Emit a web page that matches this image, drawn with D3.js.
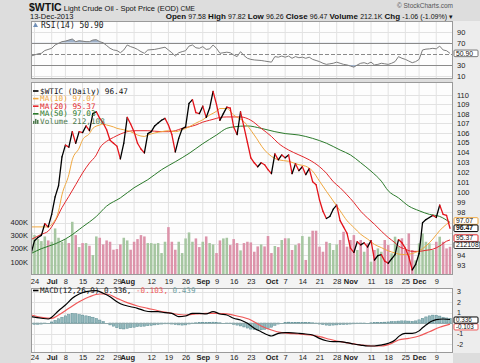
<!DOCTYPE html>
<html>
<head>
<meta charset="utf-8">
<script src="https://cdn.jsdelivr.net/npm/d3@7"></script>
<style>
  body { margin: 0; background: #dedede; }
  svg { display: block; }
</style>
</head>
<body>
<div id="grafico"></div>
<script>
/* $WTIC - petróleo bruto, grafico diario com RSI, volume, medias moveis e MACD */
// 1) Dados ------------------------------------------------
const dias = ["06-21","06-24","06-25","06-26","06-27","06-28",
  "07-01","07-02","07-03","07-05","07-08","07-09","07-10","07-11","07-12","07-15","07-16","07-17","07-18","07-19","07-22","07-23","07-24","07-25","07-26","07-29","07-30","07-31",
  "08-01","08-02","08-05","08-06","08-07","08-08","08-09","08-12","08-13","08-14","08-15","08-16","08-19","08-20","08-21","08-22","08-23","08-26","08-27","08-28","08-29","08-30",
  "09-03","09-04","09-05","09-06","09-09","09-10","09-11","09-12","09-13","09-16","09-17","09-18","09-19","09-20","09-23","09-24","09-25","09-26","09-27","09-30",
  "10-01","10-02","10-03","10-04","10-07","10-08","10-09","10-10","10-11","10-14","10-15","10-16","10-17","10-18","10-21","10-22","10-23","10-24","10-25","10-28","10-29","10-30","10-31",
  "11-01","11-04","11-05","11-06","11-07","11-08","11-11","11-12","11-13","11-14","11-15","11-18","11-19","11-20","11-21","11-22","11-25","11-26","11-27","11-29",
  "12-02","12-03","12-04","12-05","12-06","12-09","12-10","12-11","12-12","12-13"];

const fechamento = [94.1,95.3,95.6,95.8,96.9,96.6,
  97.8,99.5,100.6,103.5,104.7,104.5,106.1,104.9,106.1,106.0,106.7,106.2,108.0,108.2,107.5,107.0,106.3,105.2,104.9,104.6,103.3,104.9,
  107.6,106.9,106.1,104.9,104.3,103.9,105.9,106.1,106.7,107.0,107.3,107.5,106.8,105.8,104.0,105.4,106.4,106.6,109.1,109.5,108.1,108.0,
  108.8,107.6,108.6,110.4,109.0,107.3,108.0,108.7,108.6,106.6,105.8,108.2,106.6,105.0,103.4,102.9,102.5,102.9,102.7,102.2,
  101.8,103.8,103.2,103.7,103.4,103.7,101.8,102.8,102.1,102.5,101.7,102.3,101.0,100.7,99.2,98.1,97.4,97.6,98.3,98.7,97.2,96.6,96.0,
  94.6,94.2,95.2,94.9,95.1,94.7,95.3,93.5,93.9,94.0,93.4,93.2,93.6,94.0,95.4,95.1,94.6,93.8,92.6,93.1,
  94.1,97.0,97.3,97.5,97.7,97.5,98.7,97.8,97.7,96.47];

// volume em milhares
const volume = [320,300,270,255,290,260,
  250,350,280,250,270,240,400,300,210,240,240,220,150,290,280,230,260,250,190,195,230,280,
  260,190,250,270,300,290,240,240,235,240,165,250,360,250,190,250,165,275,320,250,275,210,
  250,290,240,230,165,260,275,280,225,270,240,185,240,250,245,175,215,230,215,293,
  165,218,210,263,276,276,188,225,238,293,113,288,333,333,213,175,250,240,188,230,263,325,213,
  263,300,188,263,175,238,100,188,200,175,263,225,163,288,213,276,188,313,188,110,
  238,313,250,238,188,250,288,250,200,212];

const mm10 = [["06-21",96.6],["06-28",96.6],["07-01",96.85],["07-03",98.1],["07-05",99.7],["07-09",101.7],["07-10",103.2],["07-12",104.4],["07-15",105.25],["07-17",105.9],["07-18",106.45],["07-22",106.8],["07-23",106.9],["07-24",106.8],["07-26",106.6],["07-29",106.45],["07-31",106.3],["08-02",106.1],["08-06",105.75],["08-08",105.6],["08-09",105.75],["08-15",106.1],["08-19",106.2],["08-21",106.1],["08-23",106.3],["08-27",106.6],["08-29",107.0],["09-03",107.35],["09-05",107.85],["09-09",108.25],["09-10",108.55],["09-12",108.55],["09-16",107.85],["09-19",107.15],["09-24",105.75],["09-27",104.2],["10-01",103.55],["10-03",103.2],["10-08",103.05],["10-11",102.7],["10-15",102.55],["10-17",102.05],["10-21",101.05],["10-23",100.05],["10-25",99.1],["10-29",98.15],["10-31",97.2],["11-04",96.55],["11-06",95.9],["11-08",95.45],["11-12",94.95],["11-14",94.65],["11-18",94.35],["11-20",94.15],["11-21",94.05],["11-25",94.0],["11-27",94.1],["12-02",94.35],["12-04",94.8],["12-06",95.45],["12-10",96.25],["12-12",96.85],["12-13",97.07]];

const mm20 = [["06-21",95.4],["06-26",95.9],["06-28",96.2],["07-02",97.15],["07-05",98.45],["07-09",99.55],["07-11",100.7],["07-15",101.87],["07-17",102.87],["07-19",103.7],["07-22",104.4],["07-24",105.1],["07-26",105.5],["07-30",105.85],["08-01",106.1],["08-05",106.2],["08-07",106.2],["08-09",106.2],["08-15",106.1],["08-19",106.1],["08-21",106.2],["08-23",106.45],["08-27",106.6],["08-29",106.8],["09-03",107.1],["09-05",107.3],["09-09",107.5],["09-10",107.6],["09-12",107.65],["09-18",107.65],["09-23",107.3],["09-26",106.45],["10-01",105.6],["10-03",104.9],["10-08",104.2],["10-11",103.7],["10-16",103.2],["10-21",102.5],["10-23",101.85],["10-25",101.0],["10-29",100.4],["10-31",99.7],["11-04",98.95],["11-06",98.1],["11-08",97.45],["11-12",96.85],["11-14",96.2],["11-18",95.6],["11-20",95.1],["11-21",94.8],["11-25",94.5],["11-27",94.3],["12-02",94.3],["12-04",94.4],["12-06",94.5],["12-10",94.8],["12-12",95.25],["12-13",95.37]];

const mm50 = [["06-21",94.1],["06-26",94.55],["07-02",95.0],["07-09",95.65],["07-15",96.6],["07-19",97.6],["07-24",98.6],["07-30",99.4],["08-05",100.4],["08-09",101.2],["08-15",102.2],["08-21",103.0],["08-27",103.85],["09-03",104.85],["09-09",105.75],["09-12",106.45],["09-16",106.6],["09-20",106.7],["09-26",106.45],["10-02",106.1],["10-07",105.9],["10-11",105.75],["10-17",105.4],["10-23",104.9],["10-29",104.2],["11-01",103.7],["11-06",102.9],["11-11",102.05],["11-14",101.05],["11-18",100.1],["11-21",99.4],["11-26",98.6],["12-02",98.15],["12-05",97.8],["12-10",97.6],["12-13",97.03]];

const rsi = [["06-21",46],["06-25",50],["06-26",51],["06-27",56],["07-01",60],["07-02",66],["07-05",72],["07-08",73],["07-10",76.8],["07-11",72],["07-12",73.8],["07-16",72],["07-17",72],["07-18",75],["07-19",75.6],["07-22",72],["07-23",70],["07-24",65],["07-25",60],["07-26",57],["07-29",56],["07-30",52],["07-31",57],
  ["08-01",66],["08-02",63],["08-05",61],["08-06",58],["08-07",54],["08-08",51],["08-09",57],["08-13",58],["08-14",59.3],["08-16",62],["08-19",57],["08-20",52],["08-21",46],["08-22",52],["08-23",54],["08-26",55.7],["08-27",64],["08-28",66],["08-29",61],["08-30",60],
  ["09-03",63],["09-04",58],["09-05",59],["09-06",66],["09-09",60],["09-10",51],["09-12",53],["09-13",52],["09-16",48],["09-17",45],["09-18",54],["09-19",47],["09-20",42],["09-23",40],["09-24",39],["09-26",38],["09-27",37],["09-30",36],
  ["10-01",35],["10-02",45],["10-03",44],["10-04",46],["10-07",44],["10-08",46],["10-09",42],["10-10",45],["10-11",43],["10-14",44],["10-15",42],["10-16",44],["10-17",40],["10-18",38],["10-21",36],["10-22",33],["10-23",31],["10-24",32],["10-25",33],["10-28",35],["10-29",33],["10-30",31],["10-31",30],
  ["11-01",28],["11-04",26],["11-05",30],["11-06",33],["11-07",34],["11-08",32],["11-11",35],["11-12",30],["11-13",31],["11-14",33],["11-15",32],["11-18",31],["11-19",33],["11-20",36],["11-21",45],["11-22",42],["11-25",40],["11-26",37],["11-27",34],["11-29",36],
  ["12-02",40],["12-03",57],["12-04",58.5],["12-05",59],["12-06",60],["12-09",59],["12-10",64],["12-11",57],["12-12",55.7],["12-13",50.9]];

const macd = [["06-21",0.6],["06-26",0.45],["06-28",0.38],["07-01",0.55],["07-03",1.17],["07-08",1.71],["07-10",2.35],["07-12",2.76],["07-16",2.98],["07-19",3.08],["07-23",2.83],["07-25",2.5],["07-29",2.03],["07-31",1.71],["08-02",1.55],["08-06",1.4],["08-08",1.17],["08-12",1.08],["08-14",1.08],["08-16",0.98],["08-20",0.92],["08-22",0.6],["08-26",0.67],["08-28",0.92],["08-30",0.92],["09-04",0.86],["09-06",1.08],["09-10",0.86],["09-12",0.76],["09-16",0.45],["09-18",0.29],["09-20",-0.03],["09-24",-0.5],["09-26",-0.83],["09-30",-1.14],["10-01",-1.24],["10-03",-0.98],["10-07",-0.92],["10-08",-0.92],["10-11",-0.98],["10-15",-1.05],["10-17",-1.14],["10-21",-1.46],["10-23",-1.69],["10-25",-1.78],["10-29",-1.78],["10-31",-1.87],["11-04",-2.0],["11-06",-2.1],["11-08",-2.19],["11-12",-2.19],["11-14",-2.1],["11-18",-1.94],["11-20",-1.62],["11-21",-1.3],["11-25",-0.98],["11-27",-0.98],["12-02",-0.75],["12-03",-0.45],["12-04",-0.2],["12-05",0.05],["12-06",0.22],["12-09",0.32],["12-11",0.38],["12-13",0.336]];

const sinal = [["06-21",0.76],["06-26",0.54],["07-01",0.45],["07-03",0.76],["07-09",1.4],["07-12",2.03],["07-17",2.5],["07-22",2.76],["07-24",2.76],["07-29",2.35],["08-01",1.94],["08-06",1.62],["08-09",1.4],["08-14",1.17],["08-19",0.98],["08-21",0.86],["08-26",0.76],["08-29",0.86],["09-04",0.92],["09-09",0.92],["09-12",0.86],["09-17",0.67],["09-23",0.29],["09-26",-0.29],["10-01",-0.67],["10-04",-0.92],["10-08",-0.98],["10-11",-1.05],["10-16",-1.14],["10-21",-1.3],["10-24",-1.55],["10-29",-1.78],["11-01",-1.94],["11-06",-2.1],["11-11",-2.19],["11-14",-2.19],["11-19",-1.94],["11-21",-1.62],["11-26",-1.46],["12-02",-1.24],["12-05",-0.83],["12-10",-0.41],["12-13",-0.103]];

const histograma = [-0.10,-0.12,-0.12,-0.10,-0.05,0.00,
  0.10,0.25,0.40,0.55,0.68,0.80,0.92,0.88,0.80,0.75,0.68,0.62,0.55,0.42,0.28,0.14,0.00,-0.18,-0.30,-0.45,-0.55,-0.57,
  -0.50,-0.45,-0.40,-0.35,-0.32,-0.30,-0.26,-0.22,-0.18,-0.14,-0.10,-0.08,-0.08,-0.10,-0.15,-0.18,-0.20,-0.18,-0.10,-0.02,0.02,0.04,
  0.05,0.04,0.05,0.08,0.06,0.02,0.00,-0.02,-0.06,-0.12,-0.20,-0.28,-0.38,-0.48,-0.58,-0.63,-0.66,-0.65,-0.60,-0.52,
  -0.40,-0.22,-0.10,0.00,0.05,0.08,0.06,0.07,0.06,0.06,0.05,0.04,0.02,-0.04,-0.10,-0.15,-0.20,-0.22,-0.20,-0.18,-0.16,-0.14,-0.12,
  -0.10,-0.08,-0.05,-0.03,-0.02,0.00,0.02,0.03,0.04,0.06,0.08,0.10,0.12,0.14,0.18,0.20,0.20,0.18,0.16,0.20,
  0.30,0.45,0.58,0.68,0.75,0.74,0.66,0.55,0.48,0.44];

// marcas do eixo de datas e linhas da grade semanal
const marcasData = [["06-24","24"],["07-01","Jul"],["07-08","8"],["07-15","15"],["07-22","22"],["07-29","29"],["08-01","Aug"],["08-12","12"],["08-19","19"],["08-26","26"],["09-03","Sep"],["09-09","9"],["09-16","16"],["09-23","23"],["10-01","Oct"],["10-07","7"],["10-14","14"],["10-21","21"],["10-28","28"],["11-01","Nov"],["11-11","11"],["11-18","18"],["11-25","25"],["12-02","Dec"],["12-09","9"]];
const meses = ["Jul","Aug","Sep","Oct","Nov","Dec"];
const semanas = ["06-24","07-01","07-08","07-15","07-22","07-29","08-05","08-12","08-19","08-26","09-03","09-09","09-16","09-23","09-30","10-07","10-14","10-21","10-28","11-04","11-11","11-18","11-25","12-02","12-09"];
const precoGrade = [93,94,95,96,97,98,99,100,101,102,103,104,105,106,107,108,109,110];
// rotulos visiveis (os demais ficam sob as etiquetas de valor)
const precoTicks = [93,94,98,99,100,101,102,103,104,105,106,107,108,109,110];
const volumeTicks = [100,200,300,400];
const rsiTicks = [10,30,70,90];
const macdGrade = [-2,-1,0,1,2,3];
const macdTicks = [-2,-1,1,2,3];

// 2) medidas padronizadas -----------------------------------------
const largura = 480, altura = 363;
const esq = 31, dir = 453;
const painel = {
  rsi:   {topo: 21, base: 79},
  preco: {topo: 82, base: 275},
  macd:  {topo: 288, base: 353}
};
const fonteMono = "'DejaVu Sans Mono', monospace";
const fonte = "'Liberation Sans', Arial, sans-serif";

const cores = {
  alta: "#000000", baixa: "#e3141b",
  mm10: "#f0a840", mm20: "#e4282c", mm50: "#2b7a2b",
  volAlta: "#a6c6a1", volBaixa: "#dc93aa",
  rsi: "#7d7d7d", macd: "#000000", sinal: "#f05858",
  hist: "#93b9bd", histBorda: "#5b8b92",
  grade: "#e2e2e2", borda: "#9a9a9a"
};

// 3) svg -----------------------------------------
const svg = d3.select("#grafico")
  .append("svg")
    .attr("width", largura)
    .attr("height", altura);

svg.append("rect").attr("width", largura).attr("height", altura).attr("fill", "#dddddd");
svg.append("rect").attr("x", dir).attr("y", painel.rsi.topo).attr("width", largura - dir).attr("height", painel.macd.base - painel.rsi.topo).attr("fill", "#ededed");

// escalas
const x = d3.scalePoint().domain(dias).range([31.07, 450]);
const yR = d3.scaleLinear().domain([10, 90]).range([76, 31.7]);
const yP = d3.scaleLog().domain([92.13, 111.42]).range([painel.preco.base, painel.preco.topo]);
const yV = d3.scaleLinear().domain([0, 400]).range([painel.preco.base, painel.preco.base - 53.2]);
const yM = d3.scaleLinear().domain([-2, 3]).range([344, 291.5]);

// fundo, grade vertical e recorte de cada painel
Object.entries(painel).forEach(([nome, p]) => {
  svg.append("rect")
    .attr("x", esq).attr("y", p.topo).attr("width", dir - esq).attr("height", p.base - p.topo)
    .attr("fill", "#fdfdfd");
  svg.append("clipPath").attr("id", "clip-" + nome)
    .append("rect").attr("x", esq).attr("y", p.topo).attr("width", dir - esq).attr("height", p.base - p.topo);
  svg.append("g")
    .selectAll("line")
    .data(semanas)
    .join("line")
      .attr("x1", d => x(d)).attr("x2", d => x(d))
      .attr("y1", p.topo).attr("y2", p.base)
      .attr("stroke", cores.grade).attr("stroke-width", 1);
});

// faixas das datas
[[painel.preco.base, painel.macd.topo], [painel.macd.base, altura]].forEach(([a, b]) => {
  svg.append("rect").attr("x", esq).attr("y", a).attr("width", dir - esq).attr("height", b - a).attr("fill", "#f3f3f3");
});

const linhaH = (g, escala, valores, cor, traco) => g.append("g")
  .selectAll("line")
  .data(valores)
  .join("line")
    .attr("x1", esq).attr("x2", dir)
    .attr("y1", d => Math.round(escala(d)) + 0.5).attr("y2", d => Math.round(escala(d)) + 0.5)
    .attr("stroke", cor).attr("stroke-dasharray", traco || null);

// 4) painel RSI -----------------------------------------
const gR = svg.append("g");
linhaH(gR, yR, [90, 10], cores.grade);
linhaH(gR, yR, [70, 30], "#8a8a8a");
linhaH(gR, yR, [50], "#8a8a8a", "4,2");

const linhaRsi = d3.line().x(d => x(d[0])).y(d => yR(d[1]));
svg.append("clipPath").attr("id", "clip-rsi-alto")
  .append("rect").attr("x", esq).attr("y", painel.rsi.topo).attr("width", dir - esq).attr("height", yR(70) - painel.rsi.topo);
svg.append("clipPath").attr("id", "clip-rsi-baixo")
  .append("rect").attr("x", esq).attr("y", yR(30)).attr("width", dir - esq).attr("height", painel.rsi.base - yR(30));
gR.append("path").datum(rsi)
  .attr("clip-path", "url(#clip-rsi-alto)")
  .attr("d", d3.area().x(d => x(d[0])).y0(yR(70)).y1(d => yR(d[1])))
  .attr("fill", "#9fb1c9");
gR.append("path").datum(rsi)
  .attr("clip-path", "url(#clip-rsi-baixo)")
  .attr("d", d3.area().x(d => x(d[0])).y0(yR(30)).y1(d => yR(d[1])))
  .attr("fill", "#9fb1c9");
gR.append("path").datum(rsi)
  .attr("d", linhaRsi)
  .attr("fill", "none").attr("stroke", cores.rsi).attr("stroke-width", 1);

// 5) painel de preço e volume -----------------------------------------
const gP = svg.append("g").attr("clip-path", "url(#clip-preco)");
linhaH(gP, yP, precoGrade, cores.grade);

const passo = x.step();
gP.append("g")
  .selectAll("rect")
  .data(dias)
  .join("rect")
    .attr("x", d => x(d) - passo * 0.37)
    .attr("y", (d, i) => yV(volume[i]))
    .attr("width", passo * 0.74)
    .attr("height", (d, i) => yV(0) - yV(volume[i]))
    .attr("fill", (d, i) => i > 0 && fechamento[i] < fechamento[i - 1] ? cores.volBaixa : cores.volAlta);

const linhaMedia = d3.line().x(d => x(d[0])).y(d => yP(d[1])).curve(d3.curveMonotoneX);
[[mm50, cores.mm50], [mm20, cores.mm20], [mm10, cores.mm10]].forEach(([serie, cor]) => {
  gP.append("path").datum(serie)
    .attr("d", linhaMedia)
    .attr("fill", "none").attr("stroke", cor).attr("stroke-width", 1);
});

gP.append("g")
  .selectAll("line")
  .data(d3.pairs(dias.map((d, i) => [d, fechamento[i]])))
  .join("line")
    .attr("x1", d => x(d[0][0])).attr("y1", d => yP(d[0][1]))
    .attr("x2", d => x(d[1][0])).attr("y2", d => yP(d[1][1]))
    .attr("stroke", d => d[1][1] < d[0][1] ? cores.baixa : cores.alta)
    .attr("stroke-width", 1.3).attr("stroke-linecap", "round");

// 6) painel MACD -----------------------------------------
const gM = svg.append("g").attr("clip-path", "url(#clip-macd)");
linhaH(gM, yM, macdGrade, cores.grade);
gM.append("g")
  .selectAll("rect")
  .data(dias)
  .join("rect")
    .attr("x", d => x(d) - passo * 0.35)
    .attr("y", (d, i) => Math.min(yM(0), yM(histograma[i])))
    .attr("width", passo * 0.7)
    .attr("height", (d, i) => Math.abs(yM(histograma[i]) - yM(0)))
    .attr("fill", cores.hist).attr("stroke", cores.histBorda).attr("stroke-width", 0.5);
linhaH(gM, yM, [0], "#8fa9ab");
const linhaMacd = d3.line().x(d => x(d[0])).y(d => yM(d[1])).curve(d3.curveMonotoneX);
gM.append("path").datum(sinal)
  .attr("d", linhaMacd).attr("fill", "none").attr("stroke", cores.sinal).attr("stroke-width", 1.2);
gM.append("path").datum(macd)
  .attr("d", linhaMacd).attr("fill", "none").attr("stroke", cores.macd).attr("stroke-width", 1.2);

// bordas dos painéis
Object.values(painel).forEach(p => {
  svg.append("rect")
    .attr("x", esq + 0.5).attr("y", p.topo + 0.5).attr("width", dir - esq - 1).attr("height", p.base - p.topo - 1)
    .attr("fill", "none").attr("stroke", cores.borda);
});

// 7) eixos -----------------------------------------
const estiloEixo = (g) => {
  g.select(".domain").remove();
  g.selectAll("text").attr("fill", "#222").attr("font-family", fonte).attr("font-size", 7.5);
};
svg.append("g").attr("transform", `translate(${dir},0)`)
  .call(d3.axisRight(yR).tickValues(rsiTicks).tickSize(0).tickPadding(4)).call(estiloEixo);
svg.append("g").attr("transform", `translate(${dir},0)`)
  .call(d3.axisRight(yP).tickValues(precoTicks).tickFormat(d3.format("d")).tickSize(0).tickPadding(4)).call(estiloEixo);
svg.append("g").attr("transform", `translate(${esq},0)`)
  .call(d3.axisLeft(yV).tickValues(volumeTicks).tickFormat(d => d + "K").tickSize(0).tickPadding(3)).call(estiloEixo);
svg.append("g").attr("transform", `translate(${dir},0)`)
  .call(d3.axisRight(yM).tickValues(macdTicks).tickFormat(d => String(d)).tickSize(0).tickPadding(4)).call(estiloEixo)
  .selectAll("text").attr("font-size", 7);

const rotulo = new Map(marcasData);
[[painel.preco.base, 4], [painel.macd.base, 2]].forEach(([y0, pad]) => {
  svg.append("g").attr("transform", `translate(0,${y0})`)
    .call(d3.axisBottom(x).tickValues(marcasData.map(d => d[0])).tickFormat(d => rotulo.get(d)).tickSize(0).tickPadding(pad))
    .call(estiloEixo)
    .selectAll("text")
      .attr("font-weight", d => meses.includes(rotulo.get(d)) ? "bold" : null);
});

// 8) etiquetas de valor no eixo direito -----------------------------------------
const etiqueta = (y, texto, cor, negrito, larg, tam) => {
  const h = tam ? 6.2 : 6.6;
  const g = svg.append("g").attr("transform", `translate(${dir + 1},${y})`);
  g.append("rect").attr("x", 0).attr("y", -h / 2).attr("width", larg || 24).attr("height", h)
    .attr("rx", 1).attr("fill", "#ffffff").attr("stroke", cor).attr("stroke-width", 1);
  g.append("text").attr("x", 2).attr("y", 2.2).text(texto)
    .attr("font-family", fonte).attr("font-size", tam || 6.8).attr("font-weight", negrito ? "bold" : null).attr("fill", "#111");
};
etiqueta(yR(50.9), "50.90", "#777", false);
etiqueta(yP(97.07) - 1, "97.07", cores.mm10, false);
etiqueta(yP(95.37) - 1.8, "95.37", cores.mm20, false);
etiqueta(yV(212.1) - 1.6, "212108", "#333", false, 26);
etiqueta(yP(96.47), "96.47", "#000", true);
etiqueta(yM(-0.103) + 2.8, "-0.103", cores.sinal, false, 24, 6.3);
etiqueta(yM(0.336) + 0.6, "0.336", "#000", false, 24, 6.3);

// 9) legendas -----------------------------------------
svg.append("text").attr("x", 41).attr("y", 28).text("RSI(14) 50.90")
  .attr("font-family", fonteMono).attr("font-size", 8).attr("fill", "#222");
svg.append("path").attr("d", "M33,27 L35.5,22.5 L38,27 Z").attr("fill", "#6f8fb8");

const legenda = [
  ["$WTIC (Daily) 96.47", "#111", cores.alta],
  ["MA(10) 97.07", cores.mm10, cores.mm10],
  ["MA(20) 95.37", cores.mm20, cores.mm20],
  ["MA(50) 97.03", cores.mm50, cores.mm50],
  ["Volume 212,108", "#4d7a4d", null]
];
legenda.forEach(([txt, corTexto, corLinha], i) => {
  const yb = 93.5 + i * 7.6;
  if (corLinha) {
    svg.append("line").attr("x1", 33).attr("x2", 38.5).attr("y1", yb - 2.5).attr("y2", yb - 2.5)
      .attr("stroke", corLinha).attr("stroke-width", 1.6);
  } else {
    [[33, 3], [35, 5], [37, 4]].forEach(([bx, bh]) => svg.append("rect")
      .attr("x", bx).attr("y", yb - bh).attr("width", 1.5).attr("height", bh).attr("fill", "#4d7a4d"));
  }
  svg.append("text").attr("x", 40).attr("y", yb).text(txt)
    .attr("font-family", fonteMono).attr("font-size", 7.7).attr("fill", corTexto);
});

svg.append("line").attr("x1", 33).attr("x2", 38.5).attr("y1", 290.5).attr("y2", 290.5).attr("stroke", "#000").attr("stroke-width", 1.6);
const tMacd = svg.append("text").attr("x", 40).attr("y", 293.2)
  .attr("font-family", fonteMono).attr("font-size", 7.6);
tMacd.append("tspan").attr("fill", "#111").text("MACD(12,26,9) 0.336, ");
tMacd.append("tspan").attr("fill", cores.sinal).text("-0.103, ");
tMacd.append("tspan").attr("fill", "#6f9fa3").text("0.439");

// 10) cabeçalho -----------------------------------------
const titulo = svg.append("text").attr("x", 29).attr("y", 10.5).attr("font-family", fonte).attr("fill", "#111");
titulo.append("tspan").attr("font-size", 10.5).attr("font-weight", "bold").text("$WTIC");
titulo.append("tspan").attr("font-size", 7.5).text(" Light Crude Oil - Spot Price (EOD) ");
titulo.append("tspan").attr("font-size", 6.5).text("CME");
svg.append("text").attr("x", 30).attr("y", 18.5).text("13-Dec-2013")
  .attr("font-family", fonte).attr("font-size", 7.5).attr("fill", "#111");
svg.append("text").attr("x", dir).attr("y", 7.5).attr("text-anchor", "end").text("© StockCharts.com")
  .attr("font-family", fonte).attr("font-size", 6.5).attr("fill", "#555");

const cotacao = [["Open", "97.58"], ["High", "97.82"], ["Low", "96.26"], ["Close", "96.47"], ["Volume", "212.1K"], ["Chg", "-1.06 (-1.09%) \u25BE"]];
const linhaCot = svg.append("text").attr("x", dir).attr("y", 18.5).attr("text-anchor", "end")
  .attr("font-family", fonte).attr("fill", "#111");
cotacao.forEach(([k, v], i) => {
  linhaCot.append("tspan").attr("font-size", 8).attr("font-weight", "bold").text((i ? "  " : "") + k + " ");
  linhaCot.append("tspan").attr("font-size", 7).text(v);
});
</script>
</body>
</html>
